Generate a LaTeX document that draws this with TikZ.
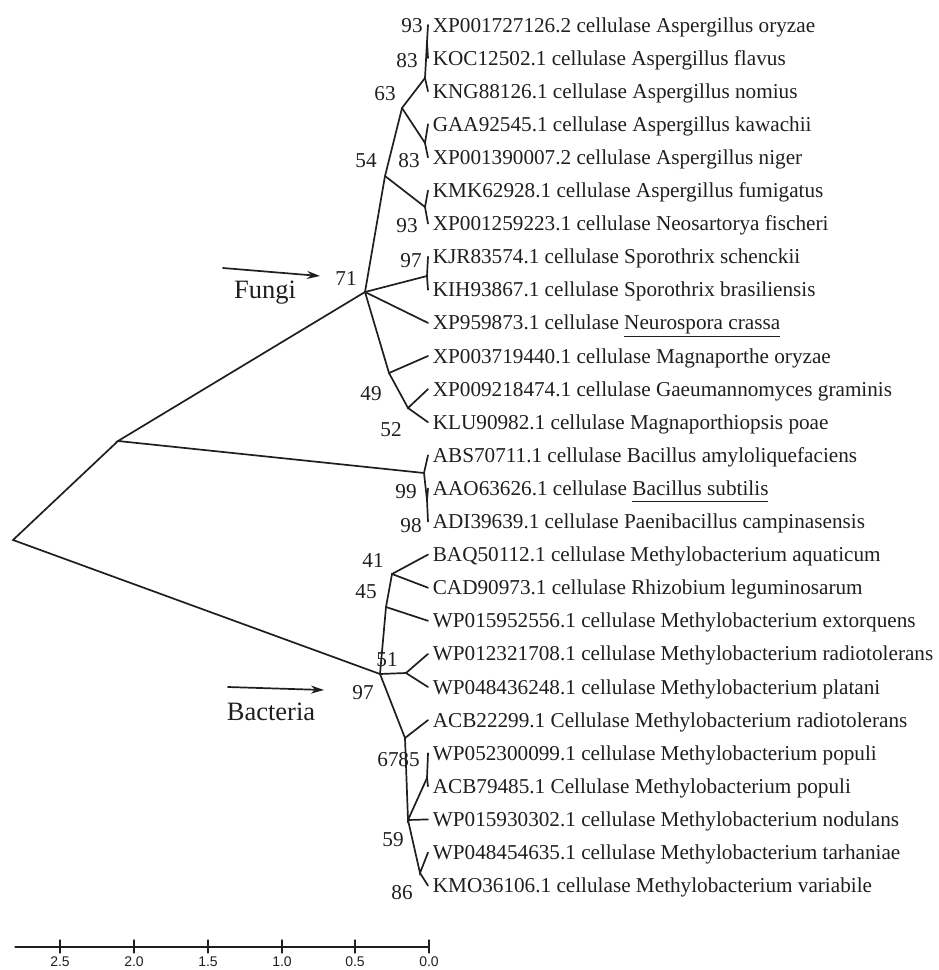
\documentclass[tikz,border=0pt]{standalone}
\usepackage{fontspec}
\setmainfont{Liberation Serif}
\newfontfamily\barfont{Liberation Sans}
\usetikzlibrary{arrows.meta}
\newcommand{\spname}[1]{\underline{#1\vphantom{p}}}

\begin{document}
\begin{tikzpicture}[x=1pt, y=-1pt, line width=1.7pt, line cap=round, color=black!88,
  leaf/.style={anchor = base west, inner sep=0pt, font=\fontsize{21.2}{24}\selectfont},
  boot/.style={inner sep=0pt, font=\fontsize{21.2}{24}\selectfont},
  group/.style={inner sep=0pt, font=\fontsize{26.5}{30}\selectfont},
  scalelab/.style={anchor = base, inner sep=0pt, font=\barfont\fontsize{14}{16}\selectfont},
  tick/.style={line width=1.2pt}]
\useasboundingbox (0,0) rectangle (938,970);

% leaves
\foreach \i/\name in {1/{XP001727126.2 cellulase Aspergillus oryzae},
  2/{KOC12502.1 cellulase Aspergillus flavus},
  3/{KNG88126.1 cellulase Aspergillus nomius},
  4/{GAA92545.1 cellulase Aspergillus kawachii},
  5/{XP001390007.2 cellulase Aspergillus niger},
  6/{KMK62928.1 cellulase Aspergillus fumigatus},
  7/{XP001259223.1 cellulase Neosartorya fischeri},
  8/{KJR83574.1 cellulase Sporothrix schenckii},
  9/{KIH93867.1 cellulase Sporothrix brasiliensis},
  10/{XP959873.1 cellulase \spname{Neurospora crassa}},
  11/{XP003719440.1 cellulase Magnaporthe oryzae},
  12/{XP009218474.1 cellulase Gaeumannomyces graminis},
  13/{KLU90982.1 cellulase Magnaporthiopsis poae},
  14/{ABS70711.1 cellulase Bacillus amyloliquefaciens},
  15/{AAO63626.1 cellulase \spname{Bacillus subtilis}},
  16/{ADI39639.1 cellulase Paenibacillus campinasensis},
  17/{BAQ50112.1 cellulase Methylobacterium aquaticum},
  18/{CAD90973.1 cellulase Rhizobium leguminosarum},
  19/{WP015952556.1 cellulase Methylobacterium extorquens},
  20/{WP012321708.1 cellulase Methylobacterium radiotolerans},
  21/{WP048436248.1 cellulase Methylobacterium platani},
  22/{ACB22299.1 Cellulase Methylobacterium radiotolerans},
  23/{WP052300099.1 cellulase Methylobacterium populi},
  24/{ACB79485.1 Cellulase Methylobacterium populi},
  25/{WP015930302.1 cellulase Methylobacterium nodulans},
  26/{WP048454635.1 cellulase Methylobacterium tarhaniae},
  27/{KMO36106.1 cellulase Methylobacterium variabile}}{
  \coordinate (t\i) at (428, {25+33.1*(\i-1)});
  \path (432, {32+33.1*(\i-1)}) node [leaf] (l\i) {\name};
}

% inner nodes
\coordinate (root) at (13,540);
\coordinate (upper) at (118,441);
\coordinate (fungi) at (365,292);
\coordinate (n54) at (385,176);
\coordinate (n63) at (402,108);
\coordinate (n83a) at (425,78);
\coordinate (n93a) at (427,42);
\coordinate (n83b) at (425,143);
\coordinate (n93b) at (425,207);
\coordinate (n97a) at (427,276);
\coordinate (n49) at (389,373);
\coordinate (n52) at (408,408);
\coordinate (bacil) at (424,473);
\coordinate (n99) at (427,500);
\coordinate (bact) at (380,674);
\coordinate (n45) at (386,607);
\coordinate (n41) at (392,574);
\coordinate (n51) at (406,673);
\coordinate (n67) at (405,738);
\coordinate (n59) at (408,820);
\coordinate (n85) at (427,778);
\coordinate (n86) at (420,873);

% branches
\path [draw] (upper) -- (root) -- (bact);
\path [draw] (fungi) -- (upper) -- (bacil);
\path [draw] (fungi) -- (n54) -- (n63) -- (n83a) -- (n93a) -- (t1);
\path [draw] (n93a) -- (t2);
\path [draw] (n83a) -- (t3);
\path [draw] (n63) -- (n83b) -- (t4);
\path [draw] (n83b) -- (t5);
\path [draw] (n54) -- (n93b) -- (t6);
\path [draw] (n93b) -- (t7);
\path [draw] (fungi) -- (n97a) -- (t8);
\path [draw] (n97a) -- (t9);
\path [draw] (fungi) -- (t10);
\path [draw] (fungi) -- (n49) -- (t11);
\path [draw] (n49) -- (n52) -- (t12);
\path [draw] (n52) -- (t13);
\path [draw] (t14) -- (bacil) -- (n99) -- (t15);
\path [draw] (n99) -- (t16);
\path [draw] (bact) -- (n45) -- (n41) -- (t17);
\path [draw] (n41) -- (t18);
\path [draw] (n45) -- (t19);
\path [draw] (bact) -- (n51) -- (t20);
\path [draw] (n51) -- (t21);
\path [draw] (bact) -- (n67) -- (t22);
\path [draw] (n67) -- (n59) -- (n85) -- (t23);
\path [draw] (n85) -- (t24);
\path [draw] (n59) -- (t25);
\path [draw] (n59) -- (n86) -- (t26);
\path [draw] (n86) -- (t27);

% bootstrap values
\path (412,26) node [boot] {93};
\path (407,61) node [boot] {83};
\path (385,94) node [boot] {63};
\path (366,161) node [boot] {54};
\path (409,161) node [boot] {83};
\path (407,226) node [boot] {93};
\path (411,261) node [boot] {97};
\path (346,278) node [boot] {71};
\path (371,394) node [boot] {49};
\path (391,430) node [boot] {52};
\path (406,492) node [boot] {99};
\path (411,526) node [boot] {98};
\path (373,560) node [boot] {41};
\path (366,592) node [boot] {45};
\path (387,660) node [boot] {51};
\path (363,693) node [boot] {97};
\path (388,760) node [boot] {67};
\path (409,760) node [boot] {85};
\path (393,840) node [boot] {59};
\path (402,893) node [boot] {86};

% group arrows
\coordinate (fa) at (223,268);
\coordinate (fb) at (320,276);
\path [draw, -{Stealth[length=13pt, width=8pt]}] (fa) -- (fb);
\path (265,293) node [group] (fungilab) {Fungi};
\coordinate (ba) at (228,687);
\coordinate (bb) at (324,690);
\path [draw, -{Stealth[length=13pt, width=8pt]}] (ba) -- (bb);
\path (271,712) node [group] (bactlab) {Bacteria};

% scale bar
\coordinate (s0) at (15,947);
\coordinate (s1) at (429,947);
\path [draw, tick] (s0) -- (s1);
\foreach \x/\v in {60/2.5, 134/2.0, 208/1.5, 282/1.0, 355/0.5, 429/0.0}{
  \path [draw, tick] (\x,940) -- (\x,953);
  \path (\x,966) node [scalelab] {\v};
}
\end{tikzpicture}
\end{document}
